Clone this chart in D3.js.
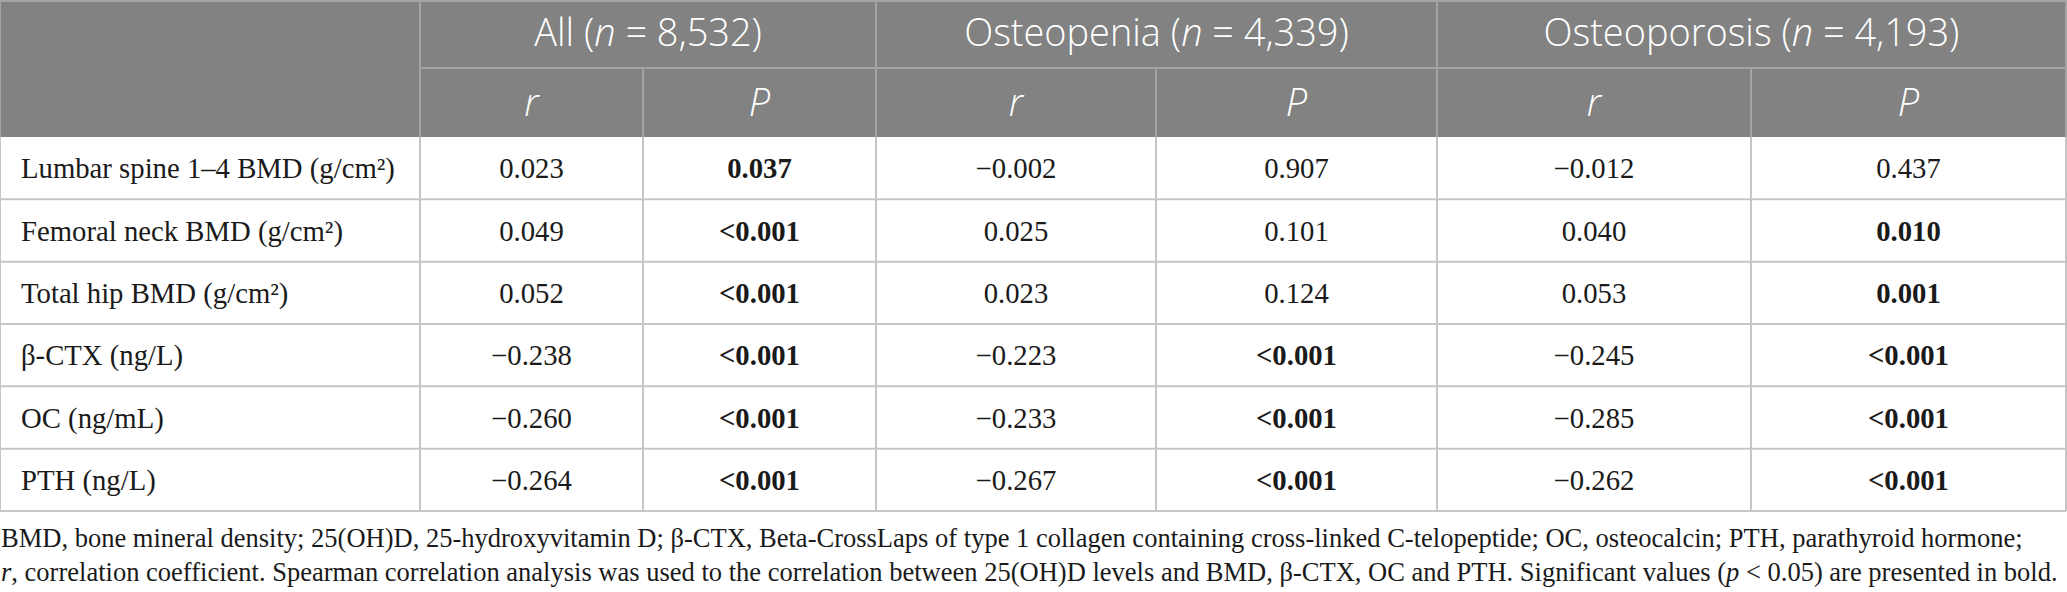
<!DOCTYPE html>
<html>
<head>
<meta charset="utf-8">
<script src="https://cdn.jsdelivr.net/npm/d3@7"></script>
<style>
  body { margin: 0; background: #fff; }
</style>
</head>
<body>
<div id="table"></div>
<script>
// table contents
const rowLabels = [
  "Lumbar spine 1–4 BMD (g/cm²)",
  "Femoral neck BMD (g/cm²)",
  "Total hip BMD (g/cm²)",
  "β-CTX (ng/L)",
  "OC (ng/mL)",
  "PTH (ng/L)"
];
const groupNames = ["All", "Osteopenia", "Osteoporosis"];
const groupN = ["8,532", "4,339", "4,193"];
const subHeads = ["r", "P"];

const rAll = [0.023, 0.049, 0.052, -0.238, -0.260, -0.264];
const pAll = ["0.037", "<0.001", "<0.001", "<0.001", "<0.001", "<0.001"];
const rOsteopenia = [-0.002, 0.025, 0.023, -0.223, -0.233, -0.267];
const pOsteopenia = ["0.907", "0.101", "0.124", "<0.001", "<0.001", "<0.001"];
const rOsteoporosis = [-0.012, 0.040, 0.053, -0.245, -0.285, -0.262];
const pOsteoporosis = ["0.437", "0.010", "0.001", "<0.001", "<0.001", "<0.001"];

const footnotes = [
  "BMD, bone mineral density; 25(OH)D, 25-hydroxyvitamin D; β-CTX, Beta-CrossLaps of type 1 collagen containing cross-linked C-telopeptide; OC, osteocalcin; PTH, parathyroid hormone;",
  "r, correlation coefficient. Spearman correlation analysis was used to the correlation between 25(OH)D levels and BMD, β-CTX, OC and PTH. Significant values (p < 0.05) are presented in bold."
];

// layout
const W = 2067, H = 592;
const headH1 = 68, headH2 = 69, bodyTop = headH1 + headH2, bodyH = 374;
const colEdges = [0, 420, 643, 876, 1156, 1437, 1751, 2066];
const headBg = "#818281", headLine = "#a3a4a3", gridLine = "#c6c6c6";
const sans = "'Open Sans', 'Noto Sans', sans-serif";
const serif = "'Liberation Serif', 'Times New Roman', serif";

const cols = [
  {r: rAll, p: pAll},
  {r: rOsteopenia, p: pOsteopenia},
  {r: rOsteoporosis, p: pOsteoporosis}
];

const svg = d3.select("#table").append("svg")
    .attr("width", W)
    .attr("height", H);

const y = d3.scaleBand()
    .domain(d3.range(rowLabels.length))
    .range([bodyTop, bodyTop + bodyH]);

const fmt = d3.format(".3f");
const isSig = s => +s.replace("<", "") < 0.05;

// scale a group's font so one sample text gets the width seen in the reference
function fitFont(g, sample, target, base) {
  const w = sample.node().getComputedTextLength();
  g.style("font-size", (base * target / w) + "px");
}

// header background
svg.append("rect")
    .attr("x", 0).attr("y", 0)
    .attr("width", colEdges[7]).attr("height", bodyTop)
    .attr("fill", headBg);

// header lines
const hl = svg.append("g").attr("stroke", headLine).attr("stroke-width", 2);
hl.append("line").attr("x1", colEdges[1]).attr("x2", colEdges[7])
    .attr("y1", headH1).attr("y2", headH1);
[1, 3, 5].forEach(i => hl.append("line")
    .attr("x1", colEdges[i]).attr("x2", colEdges[i])
    .attr("y1", 0).attr("y2", bodyTop));
[2, 4, 6].forEach(i => hl.append("line")
    .attr("x1", colEdges[i]).attr("x2", colEdges[i])
    .attr("y1", headH1).attr("y2", bodyTop));

// group headers
const head = svg.append("g")
    .attr("fill", "#fff")
    .style("font-family", sans)
    .style("font-weight", 300)
    .style("font-size", "27px");
let sampleHead;
groupNames.forEach((g, i) => {
  const t = head.append("text")
      .attr("x", (colEdges[1 + i * 2] + colEdges[3 + i * 2]) / 2)
      .attr("y", headH1 / 2 + 12)
      .attr("text-anchor", "middle");
  t.append("tspan").text(g + " (");
  t.append("tspan").style("font-style", "italic").text("n");
  t.append("tspan").text(" = " + groupN[i] + ")");
  sampleHead = t;

  subHeads.forEach((s, j) => {
    head.append("text")
        .attr("x", (colEdges[1 + i * 2 + j] + colEdges[2 + i * 2 + j]) / 2)
        .attr("y", headH1 + headH2 / 2 + 13)
        .attr("text-anchor", "middle")
        .style("font-style", "italic")
        .text(s);
  });
});
fitFont(head, sampleHead, 416, 27);

// body grid
const grid = svg.append("g").attr("stroke", gridLine).attr("stroke-width", 2).attr("fill", "none");
y.domain().forEach(i => grid.append("line")
    .attr("x1", 0).attr("x2", colEdges[7])
    .attr("y1", y(i) + y.bandwidth()).attr("y2", y(i) + y.bandwidth()));
colEdges.forEach(x => grid.append("line")
    .attr("x1", x).attr("x2", x)
    .attr("y1", bodyTop).attr("y2", bodyTop + bodyH));
grid.append("line").attr("x1", 0).attr("x2", 0).attr("y1", 0).attr("y2", bodyTop).attr("stroke", headLine);
grid.append("line").attr("x1", colEdges[7]).attr("x2", colEdges[7]).attr("y1", 0).attr("y2", bodyTop).attr("stroke", headLine);
grid.append("line").attr("x1", 0).attr("x2", colEdges[7]).attr("y1", 1).attr("y2", 1).attr("stroke", headLine);

// body text
const body = svg.append("g")
    .style("font-family", serif)
    .style("font-size", "26px")
    .attr("fill", "#1a1a1a");

const labs = body.selectAll(".lab")
  .data(rowLabels)
  .join("text")
    .attr("class", "lab")
    .attr("x", 21)
    .attr("y", (d, i) => y(i) + y.bandwidth() / 2 + 10)
    .text(d => d);

cols.forEach((c, gi) => {
  body.selectAll(".r" + gi)
    .data(c.r)
    .join("text")
      .attr("x", (colEdges[1 + gi * 2] + colEdges[2 + gi * 2]) / 2)
      .attr("y", (d, i) => y(i) + y.bandwidth() / 2 + 10)
      .attr("text-anchor", "middle")
      .text(d => fmt(d));
  body.selectAll(".p" + gi)
    .data(c.p)
    .join("text")
      .attr("x", (colEdges[2 + gi * 2] + colEdges[3 + gi * 2]) / 2)
      .attr("y", (d, i) => y(i) + y.bandwidth() / 2 + 10)
      .attr("text-anchor", "middle")
      .style("font-weight", d => isSig(d) ? "bold" : "normal")
      .text(d => d);
});
fitFont(body, d3.select(labs.nodes()[0]), 374, 26);

// footnotes
const fn = svg.append("g")
    .style("font-family", serif)
    .style("font-size", "24px")
    .attr("fill", "#1a1a1a");
fn.append("text").attr("x", 1).attr("y", 547).text(footnotes[0]);
const f2 = fn.append("text").attr("x", 1).attr("y", 581);
f2.append("tspan").style("font-style", "italic").text("r");
f2.append("tspan").text(footnotes[1].slice(1, footnotes[1].indexOf("(p") + 1));
f2.append("tspan").style("font-style", "italic").text("p");
f2.append("tspan").text(footnotes[1].slice(footnotes[1].indexOf("(p") + 2));
fitFont(fn, f2, 2058, 24);
</script>
</body>
</html>
